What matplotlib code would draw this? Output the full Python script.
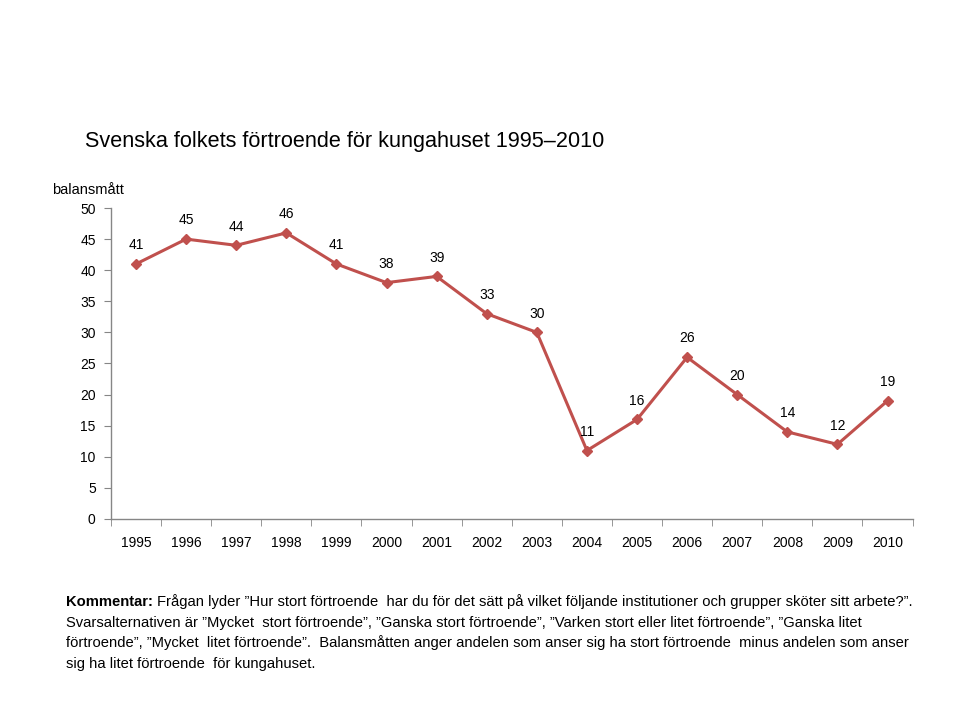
import numpy as np
import matplotlib
matplotlib.use('Agg')
import matplotlib.pyplot as plt
from matplotlib.ticker import FixedLocator, NullFormatter

years = ['1995', '1996', '1997', '1998', '1999', '2000', '2001', '2002',
         '2003', '2004', '2005', '2006', '2007', '2008', '2009', '2010']
values = [41, 45, 44, 46, 41, 38, 39, 33, 30, 11, 16, 26, 20, 14, 12, 19]
yticks = [0, 5, 10, 15, 20, 25, 30, 35, 40, 45, 50]

title = 'Svenska folkets förtroende för kungahuset 1995–2010'
ylab = 'balansmått'
comment_lines = [
    'Frågan lyder ”Hur stort förtroende  har du för det sätt på vilket följande institutioner och grupper sköter sitt arbete?”.',
    'Svarsalternativen är ”Mycket  stort förtroende”, ”Ganska stort förtroende”, ”Varken stort eller litet förtroende”, ”Ganska litet',
    'förtroende”, ”Mycket  litet förtroende”.  Balansmåtten anger andelen som anser sig ha stort förtroende  minus andelen som anser',
    'sig ha litet förtroende  för kungahuset.',
]

plt.rcParams['font.family'] = ['Liberation Sans', 'DejaVu Sans']
red = '#C0504D'
grey = '#868686'

fig = plt.figure(figsize=(9.6, 7.2), dpi=100)
ax = fig.add_axes([0.1156, 0.2792, 0.835, 0.4319])

x = np.arange(len(years))
ax.plot(x, values, color=red, lw=2.2, marker='D', ms=5.5, mfc=red, mec=red)
for xi, v in zip(x, values):
    ax.annotate(str(v), (xi, v), xytext=(0, 8.5), textcoords='offset points',
                ha='center', va='bottom', fontsize=10)

ax.set_xlim(-0.5, len(years) - 0.5)
ax.set_ylim(0, 50)
ax.set_yticks(yticks)
ax.set_xticks(x)
ax.set_xticklabels(years, fontsize=10)
ax.tick_params(axis='x', which='major', length=0, pad=12)
ax.xaxis.set_minor_locator(FixedLocator(np.arange(-0.5, len(years), 1.0)))
ax.xaxis.set_minor_formatter(NullFormatter())
ax.tick_params(axis='x', which='minor', length=5, color=grey, direction='out')
ax.tick_params(axis='y', length=5, color=grey, direction='out', labelsize=10, pad=6)
for s in ['top', 'right']:
    ax.spines[s].set_visible(False)
for s in ['left', 'bottom']:
    ax.spines[s].set_color(grey)
    ax.spines[s].set_linewidth(1)

fig.text(85 / 960, 1 - 142 / 720, title, fontsize=15.6, ha='left', va='center')
fig.text(52 / 960, 1 - 190 / 720, ylab, fontsize=10.5, ha='left', va='center')

y0 = 606
fs = 10.6
for i, line in enumerate(comment_lines):
    yy = 1 - (y0 + i * 20.7) / 720
    if i == 0:
        t = fig.text(66 / 960, yy, 'Kommentar:', fontsize=fs, fontweight='bold',
                     ha='left', va='baseline')
        fig.canvas.draw()
        bb = t.get_window_extent()
        fig.text((bb.x1 + 4) / 960, yy, line, fontsize=fs, ha='left', va='baseline')
    else:
        fig.text(66 / 960, yy, line, fontsize=fs, ha='left', va='baseline')

fig.savefig('out.png', dpi=100)
